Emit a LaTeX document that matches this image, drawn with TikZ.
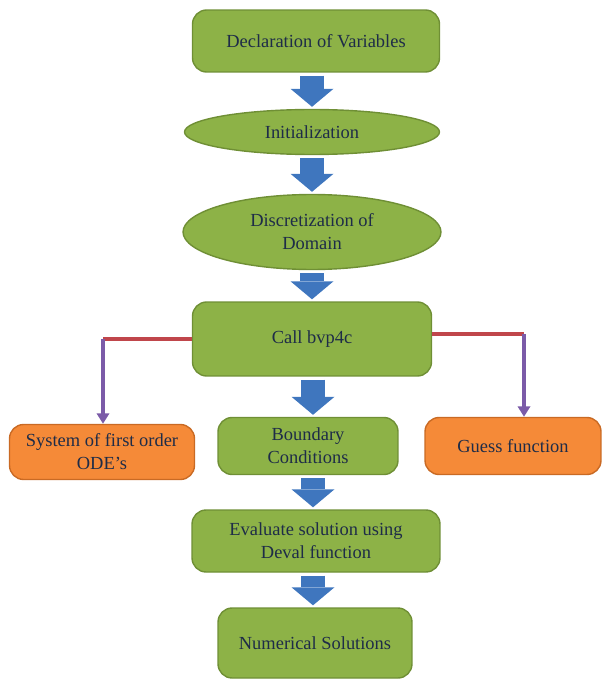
\documentclass[tikz,border=0pt]{standalone}
\usepackage{fontspec}
\setmainfont{Liberation Serif}
\usepackage{tikz}
\usetikzlibrary{arrows.meta,positioning,calc,shapes.geometric}
\definecolor{boxgreen}{HTML}{8DB247}
\definecolor{edgegreen}{HTML}{6F8F35}
\definecolor{boxorange}{HTML}{F58A38}
\definecolor{edgeorange}{HTML}{C96A24}
\definecolor{arrowblue}{HTML}{3F76BE}
\definecolor{txtnavy}{HTML}{1E2C48}
\definecolor{lnred}{HTML}{C0464B}
\definecolor{lnpurple}{HTML}{7B5BA8}
\tikzset{
  flowbox/.style={draw=edgegreen, line width=0.8pt, rounded corners=8pt, fill=boxgreen, text=txtnavy, align=center, font=\fontsize{10.5}{13}\selectfont},
  stepoval/.style={draw=edgegreen, line width=0.8pt, ellipse, fill=boxgreen, text=txtnavy, align=center, inner sep=0pt, font=\fontsize{10.5}{13}\selectfont},
  sidebox/.style={draw=edgeorange, line width=0.8pt, rounded corners=8pt, fill=boxorange, text=txtnavy, align=center, font=\fontsize{10.5}{13}\selectfont},
  blockarrow/.style={arrowblue, line width=0.48cm, -{Triangle[width=0.86cm, length=0.36cm, line width=0pt]}, shorten <=0.06cm, shorten >=0.04cm},
  redln/.style={lnred, line width=2pt},
  purpln/.style={lnpurple, line width=2pt, -{Triangle[width=7pt, length=6pt]}},
}
\begin{document}
\begin{tikzpicture}[x=0.02cm, y=-0.02cm]
  \useasboundingbox (0,0) rectangle (603,682);
  % main column
  \node[flowbox, minimum width=4.94cm, minimum height=1.24cm] (decl) at (316,41) {Declaration of Variables};
  \node[stepoval, minimum width=5.1cm, minimum height=0.9cm] (init) at (312,132) {Initialization};
  \node[stepoval, minimum width=5.16cm, minimum height=1.5cm] (disc) at (312,232) {Discretization of\\Domain};
  \node[flowbox, minimum width=4.78cm, minimum height=1.48cm] (call) at (312,339) {Call bvp4c};
  \node[flowbox, minimum width=3.6cm, minimum height=1.14cm] (bc) at (308,446) {Boundary\\Conditions};
  \node[flowbox, minimum width=4.96cm, minimum height=1.24cm] (eval) at (316,541) {Evaluate solution using\\Deval function};
  \node[flowbox, minimum width=3.88cm, minimum height=1.4cm] (numsol) at (315,643) {Numerical Solutions};
  % side boxes
  \node[sidebox, minimum width=3.7cm, minimum height=1.1cm] (ode) at (102,452) {System of first order\\ODE's};
  \node[sidebox, minimum width=3.52cm, minimum height=1.14cm] (guess) at (513,446) {Guess function};
  % block arrows
  \draw[blockarrow] (init.north |- decl.south) -- (init.north);
  \draw[blockarrow] (init.south) -- (disc.north);
  \draw[blockarrow] (disc.south) -- (call.north);
  \draw[blockarrow] ([xshift=0.02cm]call.south) -- ([xshift=0.02cm]call.south |- bc.north);
  \draw[blockarrow] ([xshift=0.1cm]bc.south) -- ([xshift=0.1cm]bc.south |- eval.north);
  \draw[blockarrow] ([xshift=-0.06cm]eval.south) -- ([xshift=-0.06cm]eval.south |- numsol.north);
  % branches
  \coordinate (lk) at (103,339);
  \coordinate (rk) at (524,334);
  \draw[redln] (call.west |- lk) -- (lk);
  \draw[purpln] (lk) -- (lk |- ode.north);
  \draw[redln] (call.east |- rk) -- (rk);
  \draw[purpln] (rk) -- (rk |- guess.north);
\end{tikzpicture}
\end{document}
